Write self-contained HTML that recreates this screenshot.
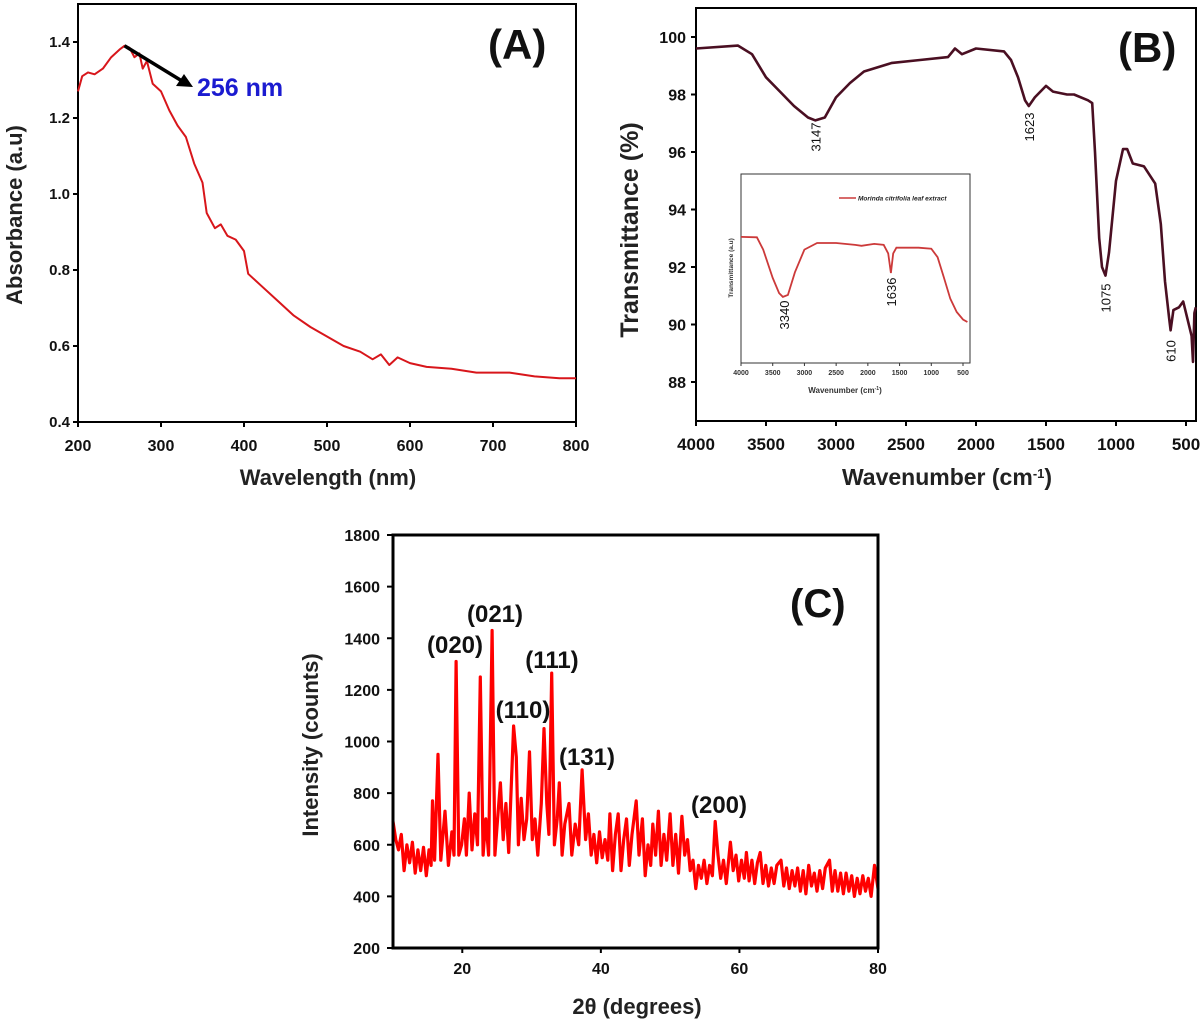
<!DOCTYPE html>
<html><head><meta charset="utf-8"><style>
html,body{margin:0;padding:0;background:#fff;}
svg{display:block;font-family:"Liberation Sans",Arial,sans-serif;}
</style></head><body>
<svg id="fig" width="1200" height="1024" viewBox="0 0 1200 1024" xmlns="http://www.w3.org/2000/svg"></svg>
<script>
// ---- Panel A data: UV-Vis
const uvWavelength=[200,205,212,220,230,240,250,256,262,268,274,278,283,290,300,310,320,330,340,350,355,365,372,380,390,400,405,420,440,460,480,500,520,540,555,565,575,585,600,620,650,680,720,750,780,800];
const uvAbsorbance=[1.27,1.31,1.32,1.315,1.33,1.36,1.38,1.39,1.385,1.36,1.37,1.33,1.35,1.29,1.27,1.22,1.18,1.15,1.08,1.03,0.95,0.91,0.92,0.89,0.88,0.85,0.79,0.76,0.72,0.68,0.65,0.625,0.60,0.585,0.565,0.578,0.55,0.57,0.555,0.545,0.54,0.53,0.53,0.52,0.515,0.515];
const uvXTicks=[200,300,400,500,600,700,800];
const uvYTicks=[0.4,0.6,0.8,1.0,1.2,1.4];
// ---- Panel B data: FTIR
const irWavenumber=[4000,3700,3600,3500,3400,3300,3200,3147,3080,3000,2900,2800,2600,2400,2200,2150,2100,2000,1800,1750,1700,1650,1623,1580,1500,1450,1350,1300,1200,1170,1150,1120,1100,1075,1050,1000,950,920,880,800,720,680,650,620,610,590,550,520,490,460,450,440,430];
const irTransmittance=[99.6,99.7,99.4,98.6,98.1,97.6,97.2,97.1,97.2,97.9,98.4,98.8,99.1,99.2,99.3,99.6,99.4,99.6,99.5,99.2,98.6,97.8,97.6,97.9,98.3,98.1,98.0,98.0,97.8,97.7,96,93,92,91.7,92.5,95,96.1,96.1,95.6,95.5,94.9,93.5,91.5,90.2,89.8,90.5,90.6,90.8,90.2,89.6,88.7,90.4,90.6];
const irXTicks=[4000,3500,3000,2500,2000,1500,1000,500];
const irYTicks=[88,90,92,94,96,98,100];
const irPeaks=[3147,1623,1075,610];
// inset
const insetWavenumber=[4000,3750,3650,3500,3400,3340,3260,3150,3000,2800,2500,2200,2100,1900,1750,1680,1636,1600,1550,1200,1000,900,800,700,600,500,430];
const insetValue=[66.7,66.5,60,45,37,35,36,48,60,63.5,63.5,62.5,62,63,62.5,58,47.6,58,61,61,60.5,56,45,34,27,23,21.7];
const insetXTicks=[4000,3500,3000,2500,2000,1500,1000,500];
// ---- Panel C data: XRD
const xrdAngle=[10,10.4,10.8,11.2,11.6,12,12.4,12.8,13.2,13.6,14,14.4,14.8,15.2,15.5,15.7,16,16.5,16.9,17.5,18,18.5,18.8,19.1,19.5,19.9,20.3,20.6,21,21.4,21.8,22.2,22.6,23,23.4,23.8,24.3,24.7,25.1,25.5,25.9,26.3,26.7,27.4,27.8,28.1,28.5,28.9,29.3,29.7,30.1,30.5,30.9,31.4,31.8,32.2,32.5,32.9,33.3,33.7,34,34.4,34.8,35.4,35.8,36.3,36.8,37.3,37.8,38.2,38.6,39,39.4,39.8,40.2,40.6,41,41.3,41.7,42.1,42.5,42.9,43.3,43.7,44.1,44.5,45.1,45.5,46,46.4,46.8,47.2,47.5,47.9,48.3,48.7,49.1,49.5,50,50.4,50.8,51.2,51.7,52.1,52.5,52.9,53.3,53.7,54.1,54.5,54.9,55.3,55.7,56.1,56.5,56.9,57.3,57.7,58.1,58.7,59.1,59.5,59.9,60.3,60.7,61,61.4,61.8,62.2,62.6,63,63.4,63.8,64.2,64.6,65,65.4,66,66.4,66.8,67.2,67.6,68,68.4,68.8,69.2,69.6,70,70.4,70.8,71.2,71.6,72,72.4,73,73.4,73.8,74.2,74.6,75,75.4,75.8,76.2,76.6,77,77.4,77.8,78.2,78.6,79,79.5,80];
const xrdIntensity=[690,620,580,640,500,600,530,610,490,580,500,590,480,580,520,770,540,950,540,730,520,650,560,1310,560,600,700,560,800,580,720,600,1250,560,700,560,1430,560,700,840,620,760,570,1060,940,600,780,620,700,960,620,700,560,760,1050,760,640,1265,600,700,840,560,680,760,560,680,600,890,620,720,560,640,530,650,550,620,540,720,500,640,720,500,620,700,520,640,770,560,700,480,600,520,680,560,730,520,640,540,720,520,640,490,710,560,620,500,540,430,520,470,540,450,520,480,690,560,470,540,450,610,500,560,460,540,470,570,460,540,450,530,570,450,520,440,510,450,520,540,440,510,430,500,440,510,420,500,410,520,440,490,420,500,430,510,540,420,500,420,490,410,490,420,480,400,470,410,480,420,470,400,520,430];
const xrdXTicks=[20,40,60,80];
const xrdYTicks=[200,400,600,800,1000,1200,1400,1600,1800];

const NS='http://www.w3.org/2000/svg';
const svg=document.getElementById('fig');
function el(tag,attrs,parent,txt){const e=document.createElementNS(NS,tag);for(const k in attrs)e.setAttribute(k,attrs[k]);if(txt!==undefined)e.textContent=txt;(parent||svg).appendChild(e);return e;}
function lin(d0,d1,p0,p1){return v=>p0+(v-d0)*(p1-p0)/(d1-d0);}
function pathFrom(xs,ys,fx,fy){return xs.map((x,i)=>(i?'L':'M')+fx(x).toFixed(1)+','+fy(ys[i]).toFixed(1)).join('');}

// ================= Panel A
const gA=el('g',{});


const ax=lin(200,800,78,576), ay=lin(0.4,1.4,422,42);
let r=el('rect',{x:78,y:4,width:498,height:418,fill:'none',stroke:'#000','stroke-width':2},gA);

uvXTicks.forEach(t=>{el('line',{x1:ax(t),x2:ax(t),y1:422,y2:427,stroke:'#000','stroke-width':2},gA);
 const tx=el('text',{x:ax(t),y:451,'text-anchor':'middle','font-size':16,'font-weight':'bold',fill:'#111'},gA,t);
 });
uvYTicks.forEach(t=>{el('line',{x1:73,x2:78,y1:ay(t),y2:ay(t),stroke:'#000','stroke-width':2},gA);
 const tx=el('text',{x:70,y:ay(t)+5,'text-anchor':'end','font-size':15,'font-weight':'bold',fill:'#111'},gA,t.toFixed(1));
 });
let p=el('path',{d:pathFrom(uvWavelength,uvAbsorbance,ax,ay),fill:'none',stroke:'#d8161b','stroke-width':2,'stroke-linejoin':'round'},gA);

el('line',{x1:ax(256),y1:ay(1.39),x2:182,y2:81,stroke:'#000','stroke-width':3.5},gA);
let ah=el('polygon',{points:'193,87 176,86 184,74',fill:'#000'},gA);

let t=el('text',{x:197,y:96,'font-size':25,'font-weight':'bold',fill:'#1b1bd0'},gA,'256 nm');

t=el('text',{x:488,y:59,'font-size':42,'font-weight':'bold',fill:'#111'},gA,'(A)');

t=el('text',{x:328,y:485,'text-anchor':'middle','font-size':22,'font-weight':'bold',fill:'#222'},gA,'Wavelength (nm)');

t=el('text',{x:0,y:0,transform:'translate(22,215) rotate(-90)','text-anchor':'middle','font-size':22,'font-weight':'bold',fill:'#222'},gA,'Absorbance (a.u)');


// ================= Panel B
const gB=el('g',{});


const bx=lin(4000,500,696,1186), by=lin(88,100,382,37);
r=el('rect',{x:696,y:8,width:500,height:413,fill:'none',stroke:'#000','stroke-width':2},gB);

irXTicks.forEach(v=>{el('line',{x1:bx(v),x2:bx(v),y1:421,y2:426,stroke:'#000','stroke-width':2},gB);
 const tx=el('text',{x:bx(v),y:450,'text-anchor':'middle','font-size':17,'font-weight':'bold',fill:'#111'},gB,v);
 });
irYTicks.forEach(v=>{el('line',{x1:691,x2:696,y1:by(v),y2:by(v),stroke:'#000','stroke-width':2},gB);
 const tx=el('text',{x:686,y:by(v)+6,'text-anchor':'end','font-size':16,'font-weight':'bold',fill:'#111'},gB,v);
 });
p=el('path',{d:pathFrom(irWavenumber,irTransmittance,bx,by),fill:'none',stroke:'#4a0f22','stroke-width':2.6,'stroke-linejoin':'round'},gB);

const peakLabelY=[137,127,298,351];
irPeaks.forEach((v,i)=>{const tx=el('text',{x:0,y:0,transform:`translate(${bx(v)+5},${peakLabelY[i]}) rotate(-90)`,'text-anchor':'middle','font-size':13,fill:'#111'},gB,v);
 });
t=el('text',{x:1118,y:62,'font-size':42,'font-weight':'bold',fill:'#111'},gB,'(B)');

t=el('text',{x:947,y:485,'text-anchor':'middle','font-size':23,'font-weight':'bold',fill:'#222'},gB,'Wavenumber (cm');

el('tspan',{'font-size':13,dy:-7},t,'-1');
el('tspan',{'font-size':23,dy:7},t,')');
t=el('text',{x:0,y:0,transform:'translate(638,230) rotate(-90)','text-anchor':'middle','font-size':25,'font-weight':'bold',fill:'#222'},gB,'Transmittance  (%)');

// inset
const gI=el('g',{},gB);


const ix=lin(4000,500,741,963), iy=lin(0,100,363,174);
r=el('rect',{x:741,y:174,width:229,height:189,fill:'#fff',stroke:'#333','stroke-width':1},gI);
insetXTicks.forEach(v=>{el('line',{x1:ix(v),x2:ix(v),y1:363,y2:366,stroke:'#333','stroke-width':1},gI);
 const tx=el('text',{x:ix(v),y:375,'text-anchor':'middle','font-size':7,'font-weight':'bold',fill:'#333'},gI,v);
 });
p=el('path',{d:pathFrom(insetWavenumber,insetValue,ix,iy),fill:'none',stroke:'#cc3a3a','stroke-width':1.8},gI);

t=el('text',{x:0,y:0,transform:'translate(789,315) rotate(-90)','text-anchor':'middle','font-size':13,fill:'#111'},gI,'3340');

t=el('text',{x:0,y:0,transform:'translate(896,292) rotate(-90)','text-anchor':'middle','font-size':13,fill:'#111'},gI,'1636');

el('line',{x1:839,x2:856,y1:198,y2:198,stroke:'#cc3a3a','stroke-width':1.5},gI);
t=el('text',{x:858,y:200.5,'font-size':6.5,'font-weight':'bold','font-style':'italic',fill:'#222'},gI,'Morinda citrifolia leaf extract');

t=el('text',{x:845,y:393,'text-anchor':'middle','font-size':8,'font-weight':'bold',fill:'#333'},gI,'Wavenumber (cm');
el('tspan',{'font-size':5,dy:-3},t,'-1');el('tspan',{dy:3},t,')');

t=el('text',{x:0,y:0,transform:'translate(733,268) rotate(-90)','text-anchor':'middle','font-size':6.5,'font-weight':'bold',fill:'#333'},gI,'Transmittance (a.u)');


// ================= Panel C
const gC=el('g',{});


const cx=lin(10,80,393,878), cy=lin(200,1800,948,535);
xrdXTicks.forEach(v=>{el('line',{x1:cx(v),x2:cx(v),y1:948,y2:953,stroke:'#000','stroke-width':2},gC);
 const tx=el('text',{x:cx(v),y:974,'text-anchor':'middle','font-size':16,'font-weight':'bold',fill:'#111'},gC,v);
 });
xrdYTicks.forEach(v=>{el('line',{x1:387,x2:393,y1:cy(v),y2:cy(v),stroke:'#000','stroke-width':2},gC);
 const tx=el('text',{x:380,y:cy(v)+6,'text-anchor':'end','font-size':16,'font-weight':'bold',fill:'#111'},gC,v);
 });
p=el('path',{d:pathFrom(xrdAngle,xrdIntensity,cx,cy),fill:'none',stroke:'#ff0000','stroke-width':3.2,'stroke-linejoin':'round'},gC);

r=el('rect',{x:393,y:535,width:485,height:413,fill:'none',stroke:'#000','stroke-width':3},gC);

const hkl=[['(020)',455,653],['(021)',495,622],['(111)',552,668],['(110)',523,718],['(131)',587,765],['(200)',719,813]];
hkl.forEach(h=>{const tx=el('text',{x:h[1],y:h[2],'text-anchor':'middle','font-size':24,'font-weight':'bold',fill:'#111'},gC,h[0]);
 });
t=el('text',{x:790,y:617,'font-size':40,'font-weight':'bold',fill:'#111'},gC,'(C)');

t=el('text',{x:637,y:1014,'text-anchor':'middle','font-size':22,'font-weight':'bold',fill:'#222'},gC,'2θ (degrees)');

t=el('text',{x:0,y:0,transform:'translate(318,745) rotate(-90)','text-anchor':'middle','font-size':22,'font-weight':'bold',fill:'#222'},gC,'Intensity (counts)');

</script>
</body></html>
